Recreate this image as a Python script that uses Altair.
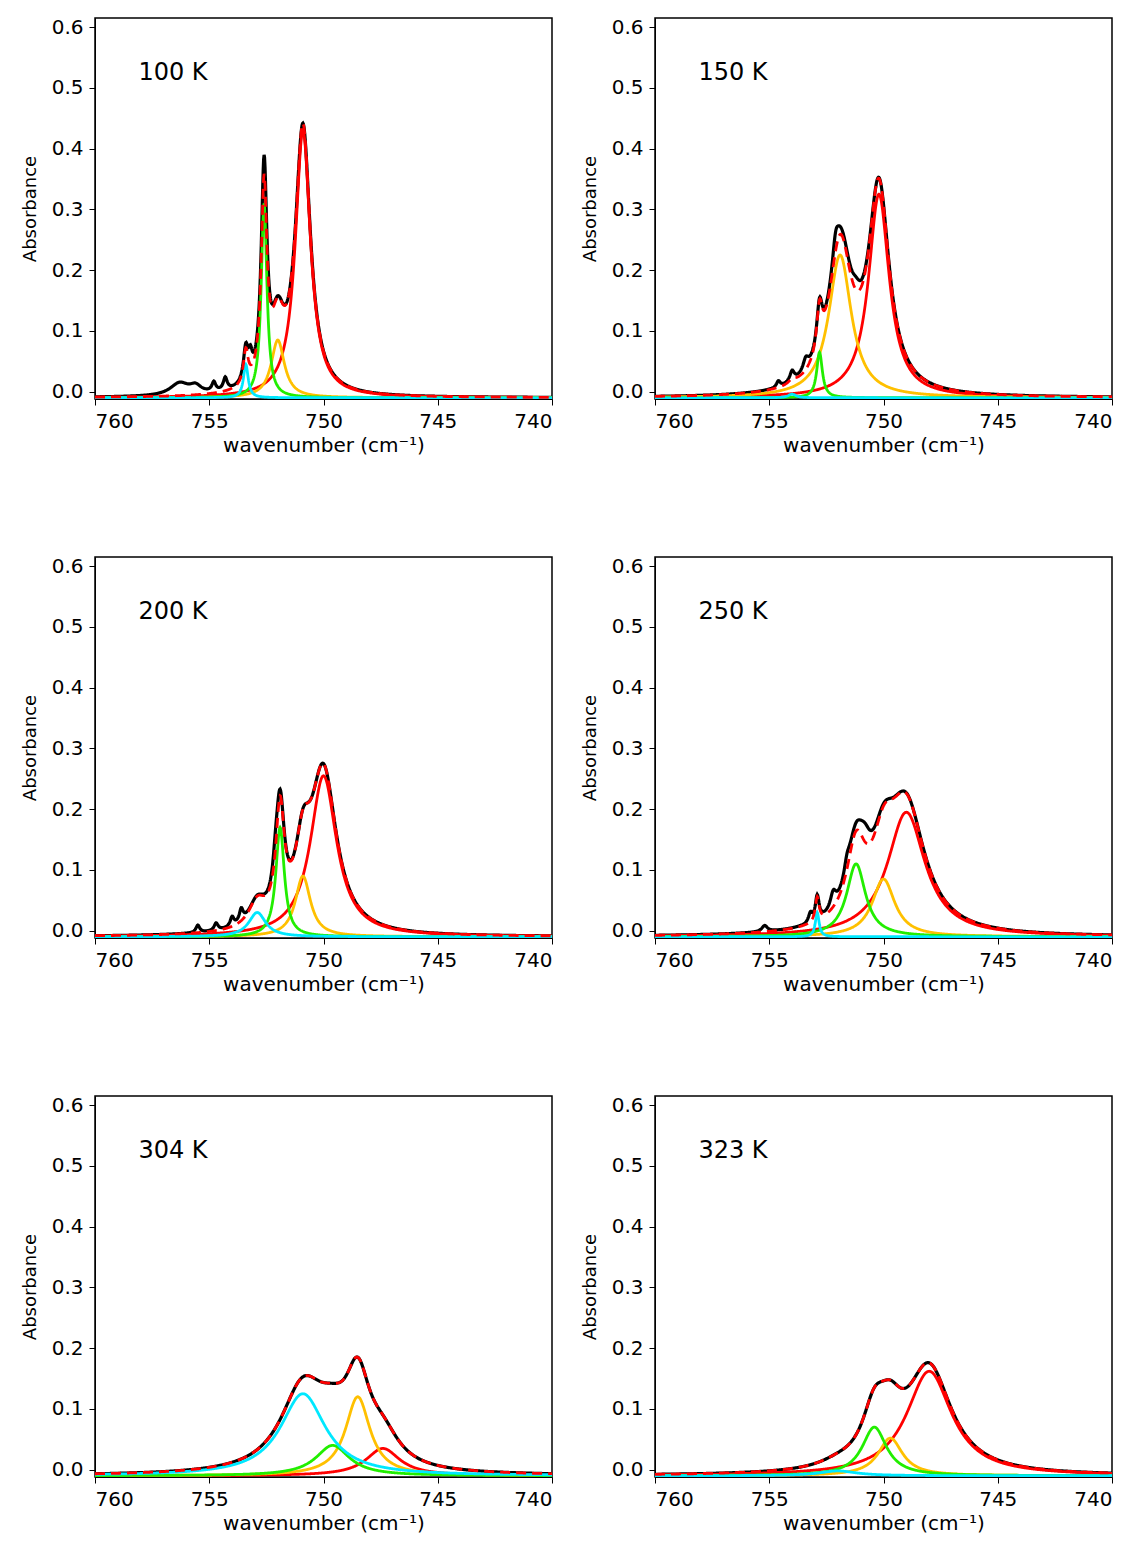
import altair as alt
import numpy as np
import pandas as pd

temps = ["100 K", "150 K", "200 K", "250 K", "304 K", "323 K"]
# Fitted Lorentzian components: (center cm-1, height, FWHM)
red_c    = [(750.9, 0.44, 0.8), (750.2, 0.335, 1.1), (750.0, 0.265, 1.4), (749.0, 0.205, 2.0), (747.4, 0.045, 1.8), (748.0, 0.172, 2.4)]
orange_c = [(752.0, 0.095, 0.7), (751.9, 0.235, 1.2), (750.9, 0.1, 0.8), (750.0, 0.095, 1.2), (748.5, 0.13, 1.3), (749.7, 0.062, 1.3)]
green_c  = [(752.6, 0.32, 0.3), (752.8, 0.075, 0.3), (751.9, 0.18, 0.45), (751.2, 0.12, 1.0), (749.6, 0.05, 1.8), (750.4, 0.08, 1.3)]
cyan_c   = [(753.4, 0.055, 0.25), (754.0, 0.006, 0.4), (752.9, 0.04, 0.9), (752.9, 0.04, 0.2), (750.9, 0.135, 2.4), (752.0, 0.008, 2.0)]
# small extra features in the measured spectrum (center, height, FWHM)
extra = [
    [(756.3, 0.02, 1.0), (755.6, 0.012, 0.6), (754.8, 0.015, 0.2), (754.3, 0.02, 0.2), (753.2, 0.03, 0.2), (752.6, 0.03, 0.3)],
    [(754.6, 0.01, 0.2), (754.0, 0.012, 0.2), (753.4, 0.02, 0.3), (752.1, 0.03, 0.3), (751.2, 0.02, 0.5)],
    [(755.5, 0.012, 0.2), (754.7, 0.012, 0.2), (754.0, 0.015, 0.2), (753.6, 0.02, 0.2), (752.1, 0.03, 0.3)],
    [(755.2, 0.01, 0.3), (753.2, 0.015, 0.2), (752.2, 0.025, 0.3), (751.6, 0.02, 0.3), (750.8, 0.03, 0.6)],
    [],
    [],
]
baseline = -0.01
wn = np.round(np.arange(740, 760.001, 0.02), 3)

def lor(c, h, w):
    return h * (w / 2) ** 2 / ((wn - c) ** 2 + (w / 2) ** 2)

colors = {"red": "#ff0000", "orange": "#ffc000", "green": "#22ee00", "cyan": "#00e8ff"}

def panel(i):
    comps = {"red": red_c[i], "orange": orange_c[i], "green": green_c[i], "cyan": cyan_c[i]}
    rows = {}
    fit = np.zeros_like(wn)
    for k, p in comps.items():
        y = lor(*p)
        fit += y
        rows[k] = y + baseline
    rows["fit"] = fit + baseline
    data = fit.copy()
    for p in extra[i]:
        data += lor(*p)
    rows["data"] = data + baseline
    df = pd.DataFrame({"x": wn, **rows})
    base = alt.Chart(df)
    xs = alt.X("x:Q", scale=alt.Scale(domain=[760, 740], nice=False),
               axis=alt.Axis(values=[760, 755, 750, 745, 740], title="wavenumber (cm⁻¹)", grid=False, format="d"))
    ys = alt.Scale(domain=[-0.012, 0.615], nice=False)
    yax = alt.Axis(values=[0, 0.1, 0.2, 0.3, 0.4, 0.5, 0.6], format=".1f", title="Absorbance", grid=False,
                   titleFontSize=18, titlePadding=12)
    layers = []
    layers.append(base.mark_line(color="black", strokeWidth=3.2, clip=True).encode(x=xs, y=alt.Y("data:Q", scale=ys, axis=yax)))
    for k in ["red", "orange", "green", "cyan"]:
        layers.append(base.mark_line(color=colors[k], strokeWidth=2.8, clip=True).encode(x="x:Q", y=alt.Y(f"{k}:Q", scale=ys)))
    layers.append(base.mark_line(color="#ff0000", strokeWidth=2.8, strokeDash=[10, 6], clip=True).encode(x="x:Q", y=alt.Y("fit:Q", scale=ys)))
    lab = alt.Chart(pd.DataFrame({"x": [758.1], "y": [0.525], "t": [temps[i]]})).mark_text(
        align="left", fontSize=24, font="DejaVu Sans", color="black").encode(x="x:Q", y=alt.Y("y:Q", scale=ys), text="t:N")
    layers.append(lab)
    return alt.layer(*layers).properties(width=457, height=381)

rows = []
for r in range(3):
    rows.append(alt.hconcat(panel(2 * r), panel(2 * r + 1), spacing=26))
chart = alt.vconcat(*rows, spacing=99).properties(
    padding={"left": 12, "top": 8, "right": 5, "bottom": 5}
).configure_view(stroke="black", strokeWidth=1.5).configure_axis(
    labelFont="DejaVu Sans", titleFont="DejaVu Sans", labelFontSize=20, titleFontSize=20,
    titleFontWeight="normal", labelColor="black", titleColor="black", domainColor="black",
    tickColor="black", tickSize=6, labelPadding=6, titlePadding=4
)

chart.save("out.html", embed_options={"renderer": "svg", "actions": False})
